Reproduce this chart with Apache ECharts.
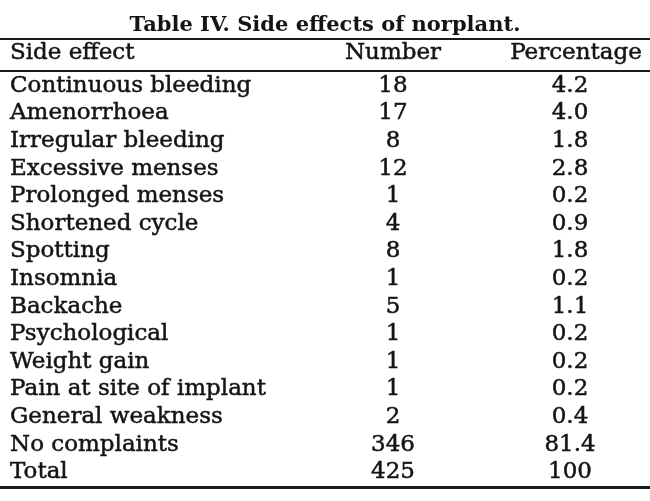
<!DOCTYPE html>
<html>
<head>
<meta charset="utf-8">
<title>Table IV. Side effects of norplant</title>
<script src="https://cdn.jsdelivr.net/npm/echarts@6/dist/echarts.min.js"></script>
<style>
  html, body { margin: 0; padding: 0; background: #fff; }
  #chart { width: 650px; height: 501px; }
</style>
</head>
<body>
<div id="chart"></div>
<script>
// 表格数据
const headers = ['Side effect', 'Number', 'Percentage'];
const sideEffects = [
  'Continuous bleeding', 'Amenorrhoea', 'Irregular bleeding', 'Excessive menses',
  'Prolonged menses', 'Shortened cycle', 'Spotting', 'Insomnia', 'Backache',
  'Psychological', 'Weight gain', 'Pain at site of implant', 'General weakness',
  'No complaints', 'Total'
];
const numbers = [18, 17, 8, 12, 1, 4, 8, 1, 5, 1, 1, 1, 2, 346, 425];
const percentages = ['4.2', '4.0', '1.8', '2.8', '0.2', '0.9', '1.8', '0.2', '1.1', '0.2', '0.2', '0.2', '0.4', '81.4', '100'];

// 版式
const font = 'DejaVu Serif';
const ink = '#141414';
const size = 23;
const colX = [10, 393, 570];
// 文字描边加粗（zrender 文本样式）
const textStyle = (text, align) => ({
  text: String(text),
  fontFamily: font,
  fontSize: size,
  fill: ink,
  stroke: ink,
  lineWidth: 0.5,
  textAlign: align,
  textVerticalAlign: 'middle'
});
const rule = (y, h) => ({ type: 'rect', left: 0, top: y, shape: { width: 650, height: h }, style: { fill: '#1a1a1a' } });
const head = (x, text, align) => ({ type: 'text', x: x, y: 53, style: textStyle(text, align) });

const chart = echarts.init(document.getElementById('chart'));

chart.setOption({
  animation: false,
  title: {
    text: 'Table IV. Side effects of norplant.',
    left: 'center',
    top: 10,
    textStyle: { fontFamily: font, fontSize: 21, fontWeight: 'bold', color: ink }
  },
  grid: { left: 0, right: 0, top: 72, bottom: 15 },
  xAxis: { type: 'value', min: 0, max: 650, show: false },
  yAxis: {
    type: 'category',
    inverse: true,
    data: sideEffects,
    axisLine: { show: false },
    axisTick: { show: false },
    splitLine: { show: false },
    axisLabel: {
      inside: true,
      interval: 0,
      margin: colX[0],
      fontFamily: font,
      fontSize: size,
      color: ink,
      textBorderColor: ink,
      textBorderWidth: 0.5
    }
  },
  series: [{
    type: 'custom',
    data: numbers.map((n, i) => [i, n, percentages[i]]),
    encode: { y: 0 },
    renderItem: (params, api) => {
      const y = api.coord([0, api.value(0)])[1];
      return {
        type: 'group',
        children: [
          { type: 'text', x: colX[1], y: y, style: textStyle(numbers[params.dataIndex], 'center') },
          { type: 'text', x: colX[2], y: y, style: textStyle(percentages[params.dataIndex], 'center') }
        ]
      };
    }
  }],
  graphic: [
    rule(38, 2),
    rule(70, 2),
    rule(486, 3),
    head(colX[0], headers[0], 'left'),
    head(colX[1], headers[1], 'center'),
    head(576, headers[2], 'center')
  ]
});

window.addEventListener('resize', () => chart.resize());
</script>
</body>
</html>
